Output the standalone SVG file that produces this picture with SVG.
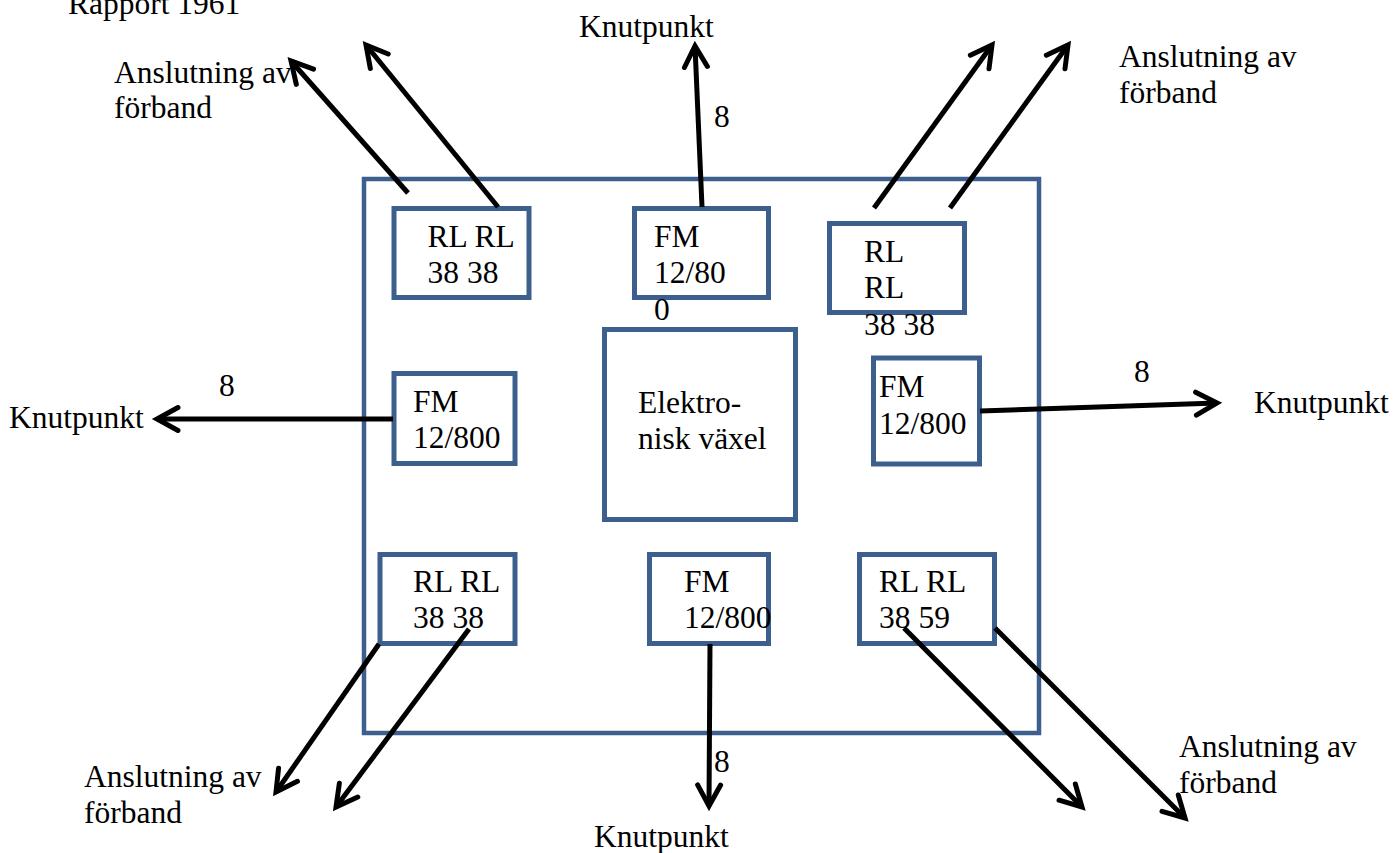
<svg xmlns="http://www.w3.org/2000/svg" width="1396" height="853" viewBox="0 0 1396 853">
<style>
  .box { fill: #ffffff; stroke: #3C5F8E; stroke-width: 5; }
  .frame { fill: none; stroke: #3C5F8E; stroke-width: 4.5; }
  .t { font-family: 'Liberation Serif', 'Times New Roman', Times, 'DejaVu Serif', serif; font-size: 31.5px; fill: #000000; }
  .conn { fill: none; stroke: #000000; stroke-width: 5; marker-end: url(#arrow); }
</style>
<defs>
  <marker id="arrow" markerUnits="userSpaceOnUse" markerWidth="40" markerHeight="40" refX="0" refY="0" orient="auto" overflow="visible">
    <path d="M-21,-11.5 L0,0 L-21,11.5" fill="none" stroke="#000000" stroke-width="5" stroke-linecap="round" stroke-linejoin="miter"/>
  </marker>
</defs>
<rect width="1396" height="853" fill="#ffffff"/>

<g id="frame">
  <rect class="frame" x="364" y="179" width="675" height="554"/>
</g>

<g id="title" class="t" font-family="Liberation Serif, serif">
  <text x="68" y="14">Rapport 1961</text>
</g>

<g id="node-rl-topleft" class="t" font-family="Liberation Serif, serif">
  <rect class="box" x="394" y="208.5" width="135" height="89"/>
  <text x="427.5" y="247">RL RL</text>
  <text x="427.5" y="283">38 38</text>
</g>

<g id="node-fm-top" class="t" font-family="Liberation Serif, serif">
  <rect class="box" x="634.5" y="208.5" width="134" height="89"/>
  <text x="654" y="247">FM</text>
  <text x="654" y="283">12/80</text>
  <text x="654" y="320">0</text>
</g>

<g id="node-rl-topright" class="t" font-family="Liberation Serif, serif">
  <rect class="box" x="829.5" y="223.5" width="135" height="89"/>
  <text x="864" y="262">RL</text>
  <text x="864" y="298">RL</text>
  <text x="864" y="335">38 38</text>
</g>

<g id="node-vaxel" class="t" font-family="Liberation Serif, serif">
  <rect class="box" x="604.5" y="329.5" width="191" height="190"/>
  <text x="638" y="413">Elektro-</text>
  <text x="638" y="449">nisk växel</text>
</g>

<g id="node-fm-left" class="t" font-family="Liberation Serif, serif">
  <rect class="box" x="394" y="373.5" width="121" height="90"/>
  <text x="413" y="412">FM</text>
  <text x="413" y="448">12/800</text>
</g>

<g id="node-fm-right" class="t" font-family="Liberation Serif, serif">
  <rect class="box" x="873.5" y="358" width="106" height="106"/>
  <text x="879" y="397">FM</text>
  <text x="879" y="434">12/800</text>
</g>

<g id="node-rl-bottomleft" class="t" font-family="Liberation Serif, serif">
  <rect class="box" x="380" y="554.5" width="135" height="89"/>
  <text x="413" y="592">RL RL</text>
  <text x="413" y="628">38 38</text>
</g>

<g id="node-fm-bottom" class="t" font-family="Liberation Serif, serif">
  <rect class="box" x="649.5" y="554.5" width="119" height="89"/>
  <text x="684" y="592">FM</text>
  <text x="684" y="628">12/800</text>
</g>

<g id="node-rl-bottomright" class="t" font-family="Liberation Serif, serif">
  <rect class="box" x="859.5" y="554.5" width="135" height="89"/>
  <text x="879" y="592">RL RL</text>
  <text x="879" y="628">38 59</text>
</g>

<g id="labels" class="t" font-family="Liberation Serif, serif">
  <text x="114" y="83">Anslutning av</text>
  <text x="114" y="118">förband</text>
  <text x="579" y="37">Knutpunkt</text>
  <text x="714" y="127">8</text>
  <text x="1119" y="67">Anslutning av</text>
  <text x="1119" y="103">förband</text>
  <text x="219" y="396">8</text>
  <text x="9" y="428">Knutpunkt</text>
  <text x="1134" y="382">8</text>
  <text x="1254" y="413">Knutpunkt</text>
  <text x="84" y="787">Anslutning av</text>
  <text x="84" y="823">förband</text>
  <text x="714" y="772">8</text>
  <text x="594" y="847">Knutpunkt</text>
  <text x="1179" y="757">Anslutning av</text>
  <text x="1179" y="793">förband</text>
</g>

<g id="connectors">
  <line class="conn" x1="408" y1="193" x2="291" y2="61"/>
  <line class="conn" x1="498" y1="207" x2="366" y2="45"/>
  <line class="conn" x1="702" y1="207" x2="695" y2="46"/>
  <line class="conn" x1="874" y1="208" x2="992" y2="45"/>
  <line class="conn" x1="950" y1="208" x2="1068" y2="45"/>
  <line class="conn" x1="393" y1="419" x2="157" y2="419"/>
  <line class="conn" x1="980" y1="411" x2="1217" y2="403"/>
  <line class="conn" x1="379" y1="644" x2="276" y2="792"/>
  <line class="conn" x1="469" y1="629" x2="336" y2="807"/>
  <line class="conn" x1="710" y1="644" x2="709" y2="806"/>
  <line class="conn" x1="904" y1="628" x2="1082" y2="807"/>
  <line class="conn" x1="995" y1="628" x2="1185" y2="818"/>
</g>
</svg>
